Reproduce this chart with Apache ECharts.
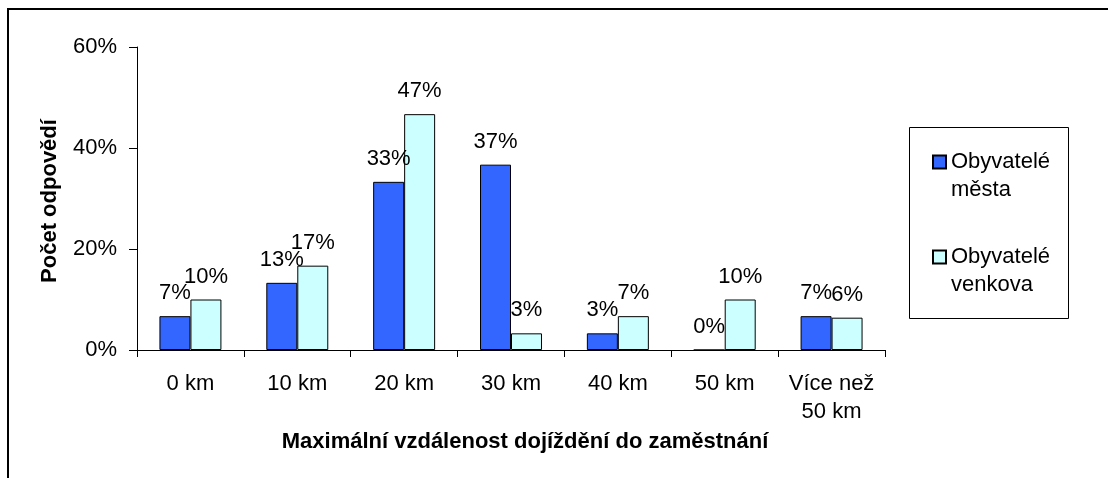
<!DOCTYPE html>
<html>
<head>
<meta charset="utf-8">
<script src="https://cdn.jsdelivr.net/npm/echarts@6/dist/echarts.min.js"></script>
<style>
  html, body { margin: 0; padding: 0; background: #fff; }
  #chart { width: 1108px; height: 478px; }
</style>
</head>
<body>
<div id="chart"></div>
<script>
// distance categories (x axis)
const categories = ['0 km', '10 km', '20 km', '30 km', '40 km', '50 km', 'Více než\n50 km'];
// share of answers in %
const mestoValues = [6.7, 13.3, 33.3, 36.7, 3.3, 0, 6.7];
const venkovValues = [10, 16.7, 46.7, 3.3, 6.7, 10, 6.4];
const seriesNames = ['Obyvatelé\nměsta', 'Obyvatelé\nvenkova'];
const yTicks = [0, 20, 40, 60];

const FONT = '"Liberation Sans", Arial, sans-serif';
const chart = echarts.init(document.getElementById('chart'));

const labelStyle = {
  show: true,
  position: 'top',
  distance: 12,
  color: '#000',
  fontFamily: FONT,
  fontSize: 22,
  formatter: p => Math.round(p.value) + '%'
};

chart.setOption({
  animation: false,
  backgroundColor: '#fff',
  textStyle: { fontFamily: FONT },
  graphic: [
    {
      // outer frame of the chart area
      type: 'rect',
      shape: { x: 8, y: 9, width: 1130, height: 500 },
      style: { fill: 'none', stroke: '#000', lineWidth: 2 },
      silent: true
    },
    {
      // legend frame
      type: 'rect',
      shape: { x: 909.5, y: 127.5, width: 159, height: 191 },
      style: { fill: 'none', stroke: '#000', lineWidth: 1 },
      silent: true
    }
  ],
  grid: { left: 137, right: 223, top: 47, bottom: 128 },
  legend: {
    orient: 'vertical',
    left: 932,
    top: 120,
    padding: 0,
    itemGap: 11,
    itemWidth: 13,
    itemHeight: 13,
    icon: 'rect',
    // leading empty line puts the first word level with the marker
    formatter: name => '\n' + name,
    textStyle: {
      fontFamily: FONT,
      fontSize: 22,
      color: '#000',
      lineHeight: 28
    },
    data: seriesNames
  },
  xAxis: {
    type: 'category',
    data: categories,
    name: 'Maximální vzdálenost dojíždění do zaměstnání',
    nameLocation: 'middle',
    nameGap: 72,
    nameTextStyle: { fontFamily: FONT, fontSize: 22, fontWeight: 'bold', color: '#000', padding: [0, 0, 0, 28] },
    axisLine: { lineStyle: { color: '#000', width: 1 } },
    axisTick: { show: true, length: 7, lineStyle: { color: '#000' } },
    axisLabel: { color: '#000', fontSize: 22, fontFamily: FONT, margin: 20, lineHeight: 28, interval: 0 },
    splitLine: { show: false }
  },
  yAxis: {
    type: 'value',
    min: yTicks[0],
    max: yTicks[yTicks.length - 1],
    interval: 20,
    name: 'Počet odpovědí',
    nameLocation: 'middle',
    nameGap: 76,
    nameTextStyle: { fontFamily: FONT, fontSize: 22, fontWeight: 'bold', color: '#000', padding: [0, 5, 0, 0] },
    axisLine: { show: true, lineStyle: { color: '#000', width: 1 } },
    axisTick: { show: true, length: 8, lineStyle: { color: '#000' } },
    axisLabel: { color: '#000', fontSize: 22, fontFamily: FONT, margin: 20, formatter: '{value}%' },
    splitLine: { show: false }
  },
  series: [
    {
      name: seriesNames[0],
      type: 'bar',
      data: mestoValues,
      barGap: '0%',
      barCategoryGap: '42%',
      itemStyle: { color: '#3366FF', borderColor: '#000', borderWidth: 1 },
      label: labelStyle
    },
    {
      name: seriesNames[1],
      type: 'bar',
      data: venkovValues,
      itemStyle: { color: '#CCFFFF', borderColor: '#000', borderWidth: 1 },
      label: labelStyle
    }
  ]
});
</script>
</body>
</html>
